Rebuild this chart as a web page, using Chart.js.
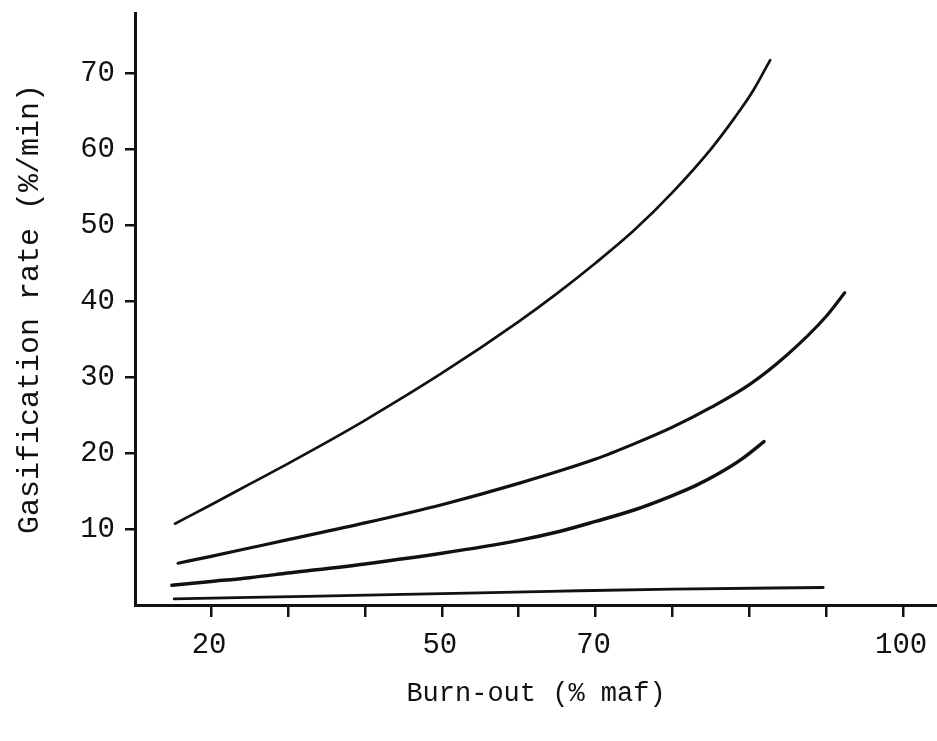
<!DOCTYPE html>
<html>
<head>
<meta charset="utf-8">
<script src="https://cdn.jsdelivr.net/npm/chart.js@4.4.1/dist/chart.umd.min.js"></script>
<style>
  html, body { margin: 0; padding: 0; background: #fff; }
  #wrap { width: 937px; height: 741px; }
</style>
</head>
<body>
<div id="wrap"><canvas id="c" width="937" height="741"></canvas></div>
<script>
// Burn-out (% maf, axis units) and gasification rate (%/min) for each curve
const burnA = [15.3, 20, 25, 30, 35, 40, 50, 60, 65, 70, 75, 80, 85, 88, 90.5, 92.7];
const rateA = [10.7, 13.2, 15.9, 18.6, 21.4, 24.3, 30.5, 37.3, 41.0, 45.0, 49.3, 54.3, 60.0, 64.0, 67.7, 71.7];

const burnB = [15.7, 20, 25, 30, 40, 50, 60, 70, 75, 80, 85, 90, 95, 100, 102.4];
const rateB = [5.5, 6.4, 7.5, 8.6, 10.8, 13.2, 16.0, 19.2, 21.2, 23.4, 26.0, 29.0, 33.0, 38.0, 41.1];

const burnC = [14.9, 20, 25, 30, 40, 50, 60, 65, 70, 75, 80, 83, 86, 89, 91.9];
const rateC = [2.6, 3.1, 3.6, 4.2, 5.4, 6.8, 8.5, 9.6, 11.0, 12.5, 14.4, 15.7, 17.3, 19.2, 21.5];

const burnD = [15.2, 25.1, 45.0, 64.1, 80.0, 99.6];
const rateD = [0.8, 1.0, 1.4, 1.8, 2.1, 2.3];

// Axis ticks
const xTickValues = [20, 30, 40, 50, 60, 70, 80, 90, 100, 110];
const xTickLabels = ['20', '', '', '50', '', '70', '', '', '', '100'];
const yTickValues = [0, 10, 20, 30, 40, 50, 60, 70];
const yTickLabels = ['', '10', '20', '30', '40', '50', '60', '70'];

const FONT = '"Liberation Mono", "DejaVu Sans Mono", monospace';
const INK = '#111';

function pts(xs, ys) { return xs.map((x, i) => ({ x: x, y: ys[i] })); }
function curve(xs, ys, w) {
  return {
    data: pts(xs, ys),
    borderColor: INK,
    borderWidth: w,
    pointRadius: 0,
    fill: false,
    cubicInterpolationMode: 'monotone',
    borderCapStyle: 'round'
  };
}

new Chart(document.getElementById('c'), {
  type: 'line',
  data: {
    datasets: [
      curve(burnA, rateA, 2.7),
      curve(burnB, rateB, 3.2),
      curve(burnC, rateC, 3.5),
      curve(burnD, rateD, 2.8)
    ]
  },
  options: {
    responsive: false,
    animation: false,
    devicePixelRatio: 1,
    layout: { padding: { top: 13, right: 0, left: 0, bottom: 0 } },
    plugins: { legend: { display: false }, tooltip: { enabled: false } },
    scales: {
      x: {
        type: 'linear',
        min: 10.1,
        max: 114.4,
        afterBuildTicks: s => { s.ticks = xTickValues.map(v => ({ value: v })); },
        afterFit: s => { s.height = 136; s.paddingLeft = 0; s.paddingRight = 0; },
        border: { display: true, color: INK, width: 3 },
        grid: { drawOnChartArea: false, drawTicks: true, tickLength: 12, color: INK, lineWidth: 2.5 },
        ticks: {
          color: INK,
          font: { family: FONT, size: 29 },
          padding: 11,
          labelOffset: -2,
          maxRotation: 0,
          autoSkip: false,
          callback: (v, i) => xTickLabels[i]
        },
        title: {
          display: true,
          text: 'Burn-out (% maf)',
          color: INK,
          font: { family: FONT, size: 27 },
          padding: { top: 0, bottom: 31 }
        }
      },
      y: {
        type: 'linear',
        min: 0,
        max: 77.9,
        afterBuildTicks: s => { s.ticks = yTickValues.map(v => ({ value: v })); },
        afterFit: s => { s.width = 135; s.paddingTop = 0; s.paddingBottom = 0; },
        border: { display: true, color: INK, width: 3 },
        grid: {
          drawOnChartArea: false,
          drawTicks: true,
          tickLength: 10,
          lineWidth: 2.5,
          color: ctx => (ctx.tick && ctx.tick.value === 0) ? 'rgba(0,0,0,0)' : INK
        },
        ticks: {
          color: INK,
          font: { family: FONT, size: 29 },
          padding: 10,
          autoSkip: false,
          callback: (v, i) => yTickLabels[i]
        },
        title: {
          display: true,
          text: 'Gasification rate (%/min)',
          color: INK,
          font: { family: FONT, size: 30 },
          padding: { top: 12, bottom: 0 }
        }
      }
    }
  }
});
</script>
</body>
</html>
